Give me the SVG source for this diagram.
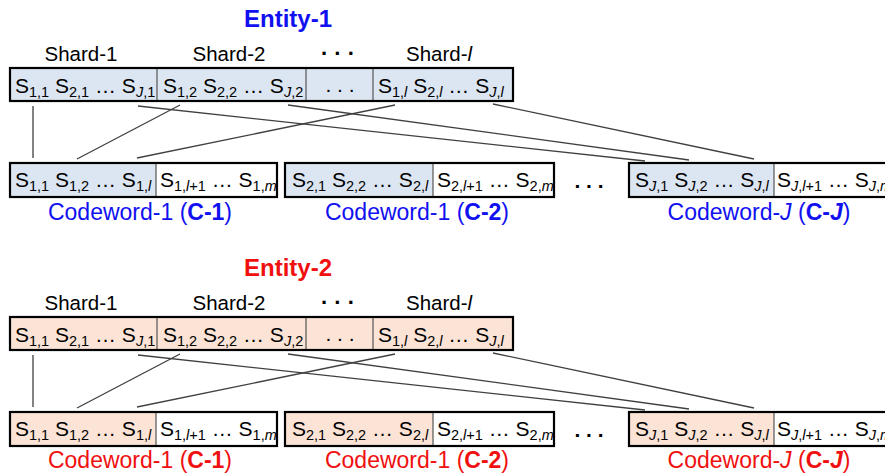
<svg xmlns="http://www.w3.org/2000/svg" width="885" height="476" viewBox="0 0 885 476">
<style>
text{font-family:"Liberation Sans",Arial,sans-serif;fill:#000}
.t{font-size:21px}
.s{font-size:14.5px}
.i{font-style:italic}
.b{font-weight:bold}
.hdr{font-size:20.5px}
.ttl{font-size:24px;font-weight:bold}
.lbl{font-size:23px}
.blue{fill:#1010F0}
.red{fill:#F01010}
.out{fill:none;stroke:#000;stroke-width:2.2}
.div{stroke:#555;stroke-width:1.2}
.fb{fill:#DCE6F2}
.fo{fill:#FBE3D5}
.fw{fill:#fff}
.dots{font-size:22px;font-weight:bold}
#connectors line{stroke:#404040;stroke-width:1.3}
</style>

<!-- ===== Entity 1 ===== -->
<g id="entity-1-title"><text class="ttl blue" x="288" y="27" text-anchor="middle">Entity-1</text></g>
<g id="entity-1">
<text class="hdr" x="81" y="61" text-anchor="middle">Shard-1</text>
<text class="hdr" x="229" y="61" text-anchor="middle">Shard-2</text>
<text class="dots" x="338" y="61" text-anchor="middle">· · ·</text>
<text class="hdr" x="439" y="61" text-anchor="middle">Shard-<tspan class="i">l</tspan></text>
<rect class="fb" x="10" y="68" width="503" height="33"/>
<line class="div" x1="157" y1="68" x2="157" y2="101"/>
<line class="div" x1="306" y1="68" x2="306" y2="101"/>
<line class="div" x1="373" y1="68" x2="373" y2="101"/>
<rect class="out" x="10" y="68" width="503" height="33"/>
<text class="t" x="15" y="93">S<tspan class="s" dy="4">1,1</tspan><tspan dy="-4"> S</tspan><tspan class="s" dy="4">2,1</tspan><tspan dy="-4"> … S</tspan><tspan class="s" dy="4"><tspan class="i">J</tspan>,1</tspan></text>
<text class="t" x="163" y="93">S<tspan class="s" dy="4">1,2</tspan><tspan dy="-4"> S</tspan><tspan class="s" dy="4">2,2</tspan><tspan dy="-4"> … S</tspan><tspan class="s" dy="4"><tspan class="i">J</tspan>,2</tspan></text>
<text class="t" x="340" y="92" text-anchor="middle">. . .</text>
<text class="t" x="378" y="93">S<tspan class="s" dy="4">1,<tspan class="i">l</tspan></tspan><tspan dy="-4"> S</tspan><tspan class="s" dy="4">2,<tspan class="i">l</tspan></tspan><tspan dy="-4"> … S</tspan><tspan class="s" dy="4"><tspan class="i">J</tspan>,<tspan class="i">l</tspan></tspan></text>
</g>

<g id="codeword-1-C1">
<rect class="fb" x="10" y="163" width="146" height="34"/>
<rect class="fw" x="156" y="163" width="121" height="34"/>
<line class="div" x1="156" y1="163" x2="156" y2="197"/>
<rect class="out" x="10" y="163" width="267" height="34"/>
<text class="t" x="15" y="187">S<tspan class="s" dy="4">1,1</tspan><tspan dy="-4"> S</tspan><tspan class="s" dy="4">1,2</tspan><tspan dy="-4"> … S</tspan><tspan class="s" dy="4">1,<tspan class="i">l</tspan></tspan></text>
<text class="t" x="160" y="187">S<tspan class="s" dy="4">1,<tspan class="i">l</tspan>+1</tspan><tspan dy="-4"> … S</tspan><tspan class="s" dy="4">1,<tspan class="i">m</tspan></tspan></text>
<text class="lbl blue" x="140" y="220" text-anchor="middle">Codeword-1 (<tspan class="b">C-1</tspan>)</text>
</g>

<g id="codeword-1-C2">
<rect class="fb" x="285" y="163" width="148" height="34"/>
<rect class="fw" x="433" y="163" width="121" height="34"/>
<line class="div" x1="433" y1="163" x2="433" y2="197"/>
<rect class="out" x="285" y="163" width="269" height="34"/>
<text class="t" x="292" y="187">S<tspan class="s" dy="4">2,1</tspan><tspan dy="-4"> S</tspan><tspan class="s" dy="4">2,2</tspan><tspan dy="-4"> … S</tspan><tspan class="s" dy="4">2,<tspan class="i">l</tspan></tspan></text>
<text class="t" x="437" y="187">S<tspan class="s" dy="4">2,<tspan class="i">l</tspan>+1</tspan><tspan dy="-4"> … S</tspan><tspan class="s" dy="4">2,<tspan class="i">m</tspan></tspan></text>
<text class="lbl blue" x="417" y="220" text-anchor="middle">Codeword-1 (<tspan class="b">C-2</tspan>)</text>
</g>

<text class="t b" x="589" y="188" text-anchor="middle">. . .</text>

<g id="codeword-1-CJ">
<rect class="fb" x="629" y="163" width="145" height="34"/>
<rect class="fw" x="774" y="163" width="122" height="34"/>
<line class="div" x1="774" y1="163" x2="774" y2="197"/>
<rect class="out" x="629" y="163" width="267" height="34"/>
<text class="t" x="635" y="187">S<tspan class="s" dy="4"><tspan class="i">J</tspan>,1</tspan><tspan dy="-4"> S</tspan><tspan class="s" dy="4"><tspan class="i">J</tspan>,2</tspan><tspan dy="-4"> … S</tspan><tspan class="s" dy="4"><tspan class="i">J</tspan>,<tspan class="i">l</tspan></tspan></text>
<text class="t" x="777" y="187">S<tspan class="s" dy="4"><tspan class="i">J</tspan>,<tspan class="i">l</tspan>+1</tspan><tspan dy="-4"> … S</tspan><tspan class="s" dy="4"><tspan class="i">J</tspan>,<tspan class="i">m</tspan></tspan></text>
<text class="lbl blue" x="759" y="220" text-anchor="middle">Codeword-<tspan class="i">J</tspan> (<tspan class="b">C-<tspan class="i">J</tspan></tspan>)</text>
</g>

<!-- ===== Entity 2 ===== -->
<g id="entity-2-title"><text class="ttl red" x="288" y="276" text-anchor="middle">Entity-2</text></g>
<g id="entity-2">
<text class="hdr" x="81" y="310" text-anchor="middle">Shard-1</text>
<text class="hdr" x="229" y="310" text-anchor="middle">Shard-2</text>
<text class="dots" x="338" y="310" text-anchor="middle">· · ·</text>
<text class="hdr" x="439" y="310" text-anchor="middle">Shard-<tspan class="i">l</tspan></text>
<rect class="fo" x="10" y="317" width="503" height="33"/>
<line class="div" x1="157" y1="317" x2="157" y2="350"/>
<line class="div" x1="306" y1="317" x2="306" y2="350"/>
<line class="div" x1="373" y1="317" x2="373" y2="350"/>
<rect class="out" x="10" y="317" width="503" height="33"/>
<text class="t" x="15" y="342">S<tspan class="s" dy="4">1,1</tspan><tspan dy="-4"> S</tspan><tspan class="s" dy="4">2,1</tspan><tspan dy="-4"> … S</tspan><tspan class="s" dy="4"><tspan class="i">J</tspan>,1</tspan></text>
<text class="t" x="163" y="342">S<tspan class="s" dy="4">1,2</tspan><tspan dy="-4"> S</tspan><tspan class="s" dy="4">2,2</tspan><tspan dy="-4"> … S</tspan><tspan class="s" dy="4"><tspan class="i">J</tspan>,2</tspan></text>
<text class="t" x="340" y="341" text-anchor="middle">. . .</text>
<text class="t" x="378" y="342">S<tspan class="s" dy="4">1,<tspan class="i">l</tspan></tspan><tspan dy="-4"> S</tspan><tspan class="s" dy="4">2,<tspan class="i">l</tspan></tspan><tspan dy="-4"> … S</tspan><tspan class="s" dy="4"><tspan class="i">J</tspan>,<tspan class="i">l</tspan></tspan></text>
</g>

<g id="codeword-2-C1">
<rect class="fo" x="10" y="412" width="146" height="34"/>
<rect class="fw" x="156" y="412" width="121" height="34"/>
<line class="div" x1="156" y1="412" x2="156" y2="446"/>
<rect class="out" x="10" y="412" width="267" height="34"/>
<text class="t" x="15" y="436">S<tspan class="s" dy="4">1,1</tspan><tspan dy="-4"> S</tspan><tspan class="s" dy="4">1,2</tspan><tspan dy="-4"> … S</tspan><tspan class="s" dy="4">1,<tspan class="i">l</tspan></tspan></text>
<text class="t" x="160" y="436">S<tspan class="s" dy="4">1,<tspan class="i">l</tspan>+1</tspan><tspan dy="-4"> … S</tspan><tspan class="s" dy="4">1,<tspan class="i">m</tspan></tspan></text>
<text class="lbl red" x="140" y="468" text-anchor="middle">Codeword-1 (<tspan class="b">C-1</tspan>)</text>
</g>

<g id="codeword-2-C2">
<rect class="fo" x="285" y="412" width="148" height="34"/>
<rect class="fw" x="433" y="412" width="121" height="34"/>
<line class="div" x1="433" y1="412" x2="433" y2="446"/>
<rect class="out" x="285" y="412" width="269" height="34"/>
<text class="t" x="292" y="436">S<tspan class="s" dy="4">2,1</tspan><tspan dy="-4"> S</tspan><tspan class="s" dy="4">2,2</tspan><tspan dy="-4"> … S</tspan><tspan class="s" dy="4">2,<tspan class="i">l</tspan></tspan></text>
<text class="t" x="437" y="436">S<tspan class="s" dy="4">2,<tspan class="i">l</tspan>+1</tspan><tspan dy="-4"> … S</tspan><tspan class="s" dy="4">2,<tspan class="i">m</tspan></tspan></text>
<text class="lbl red" x="417" y="468" text-anchor="middle">Codeword-1 (<tspan class="b">C-2</tspan>)</text>
</g>

<text class="t b" x="589" y="437" text-anchor="middle">. . .</text>

<g id="codeword-2-CJ">
<rect class="fo" x="629" y="412" width="145" height="34"/>
<rect class="fw" x="774" y="412" width="122" height="34"/>
<line class="div" x1="774" y1="412" x2="774" y2="446"/>
<rect class="out" x="629" y="412" width="267" height="34"/>
<text class="t" x="635" y="436">S<tspan class="s" dy="4"><tspan class="i">J</tspan>,1</tspan><tspan dy="-4"> S</tspan><tspan class="s" dy="4"><tspan class="i">J</tspan>,2</tspan><tspan dy="-4"> … S</tspan><tspan class="s" dy="4"><tspan class="i">J</tspan>,<tspan class="i">l</tspan></tspan></text>
<text class="t" x="777" y="436">S<tspan class="s" dy="4"><tspan class="i">J</tspan>,<tspan class="i">l</tspan>+1</tspan><tspan dy="-4"> … S</tspan><tspan class="s" dy="4"><tspan class="i">J</tspan>,<tspan class="i">m</tspan></tspan></text>
<text class="lbl red" x="759" y="468" text-anchor="middle">Codeword-<tspan class="i">J</tspan> (<tspan class="b">C-<tspan class="i">J</tspan></tspan>)</text>
</g>

<g id="connectors">
<line x1="33" y1="106" x2="33" y2="158"/>
<line x1="138" y1="106" x2="645" y2="161"/>
<line x1="180" y1="105" x2="77" y2="159"/>
<line x1="288" y1="105" x2="689" y2="160"/>
<line x1="395" y1="105" x2="137" y2="158"/>
<line x1="493" y1="104" x2="754" y2="159"/>
<line x1="33" y1="355" x2="33" y2="407"/>
<line x1="138" y1="355" x2="645" y2="410"/>
<line x1="180" y1="354" x2="77" y2="408"/>
<line x1="288" y1="354" x2="689" y2="409"/>
<line x1="395" y1="354" x2="137" y2="407"/>
<line x1="493" y1="353" x2="754" y2="408"/>
</g>
</svg>
